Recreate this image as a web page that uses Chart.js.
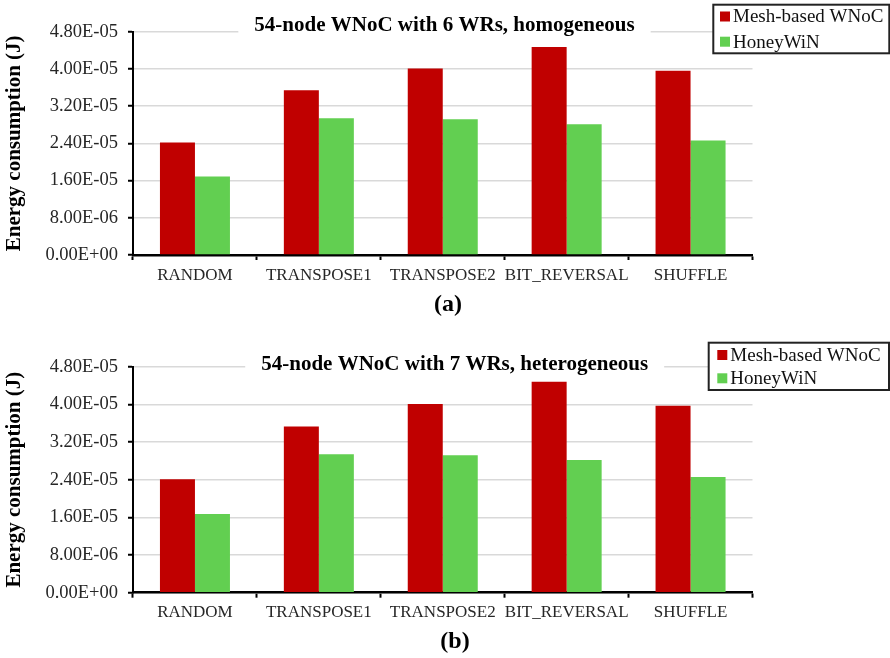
<!DOCTYPE html>
<html>
<head>
<meta charset="utf-8">
<script src="https://cdn.jsdelivr.net/npm/chart.js@4.4.0/dist/chart.umd.min.js"></script>
<style>
  body { margin: 0; background: #fff; }
  canvas { display: block; }
</style>
</head>
<body>
<canvas id="chart-a" width="890" height="329"></canvas>
<canvas id="chart-b" width="890" height="329"></canvas>
<script>
const patterns = ["RANDOM", "TRANSPOSE1", "TRANSPOSE2", "BIT_REVERSAL", "SHUFFLE"];
const seriesNames = ["Mesh-based WNoC", "HoneyWiN"];

// (a) 54-node WNoC with 6 WRs, homogeneous
const meshHomogeneous = [2.42e-5, 3.54e-5, 4.01e-5, 4.47e-5, 3.96e-5];
const honeyHomogeneous = [1.69e-5, 2.94e-5, 2.92e-5, 2.81e-5, 2.46e-5];

// (b) 54-node WNoC with 7 WRs, heterogeneous
const meshHeterogeneous = [2.41e-5, 3.53e-5, 4.01e-5, 4.48e-5, 3.97e-5];
const honeyHeterogeneous = [1.67e-5, 2.94e-5, 2.92e-5, 2.82e-5, 2.46e-5];

const yTicks = [0, 8e-6, 1.6e-5, 2.4e-5, 3.2e-5, 4e-5, 4.8e-5];

const SERIF = "'Liberation Serif', 'Times New Roman', serif";
const RED = "#c00000";
const GREEN = "#62cf51";

// 4e-5 -> "4.00E-05"
const sci = (v) => {
  const [mant, exp] = Number(v).toExponential(2).split("e");
  const e = Number(exp);
  return mant + "E" + (e < 0 ? "-" : "+") + String(Math.abs(e)).padStart(2, "0");
};

const overlay = {
  id: "overlay",
  afterDraw(chart, args, opts) {
    const { ctx } = chart;
    ctx.save();

    // title sits on top of the 4.80E-05 gridline with a white backing
    ctx.font = `bold 21px ${SERIF}`;
    const tw = ctx.measureText(opts.title).width;
    ctx.fillStyle = "#fff";
    ctx.fillRect(opts.titleX - tw / 2 - 16, opts.titleY - 20, tw + 32, 28);
    ctx.fillStyle = "#000";
    ctx.textAlign = "center";
    ctx.textBaseline = "alphabetic";
    ctx.fillText(opts.title, opts.titleX, opts.titleY);

    // boxed legend, top right
    const L = opts.legend;
    ctx.fillStyle = "#fff";
    ctx.fillRect(L.x, L.y, L.w, L.h);
    ctx.lineWidth = 2;
    ctx.strokeStyle = "#222";
    ctx.strokeRect(L.x, L.y, L.w, L.h);
    ctx.font = `19px ${SERIF}`;
    ctx.textAlign = "left";
    ctx.textBaseline = "middle";
    chart.data.datasets.forEach((ds, i) => {
      const cy = L.y + L.first + i * L.step;
      ctx.fillStyle = ds.backgroundColor;
      ctx.fillRect(L.x + L.pad, cy - 5, 10, 10);
      ctx.fillStyle = "#111";
      ctx.fillText(ds.label, L.x + L.pad + 13, cy + 1);
    });

    // (a) / (b) caption
    ctx.font = `bold 24px ${SERIF}`;
    ctx.textAlign = "center";
    ctx.textBaseline = "alphabetic";
    ctx.fillStyle = "#000";
    ctx.fillText(opts.caption, opts.captionX, opts.captionY);

    ctx.restore();
  },
};

const renderChart = ({ canvasId, mesh, honey, padding, overlayOpts }) =>
  new Chart(document.getElementById(canvasId).getContext("2d"), {
    type: "bar",
    data: {
      labels: patterns,
      datasets: [
        { label: seriesNames[0], data: mesh, backgroundColor: RED, borderWidth: 0 },
        { label: seriesNames[1], data: honey, backgroundColor: GREEN, borderWidth: 0 },
      ],
    },
    options: {
      responsive: false,
      animation: false,
      layout: { padding },
      datasets: {
        bar: { categoryPercentage: 0.565, barPercentage: 1 },
      },
      scales: {
        x: {
          afterFit: (s) => { s.height = 40; },
          grid: {
            offset: true,
            drawOnChartArea: false,
            drawTicks: true,
            tickLength: 5,
            tickColor: "#000",
            tickWidth: 2,
          },
          border: { color: "#000", width: 2.5 },
          ticks: {
            padding: 5,
            color: "#262626",
            font: { family: SERIF, size: 17 },
            maxRotation: 0,
            autoSkip: false,
          },
        },
        y: {
          min: 0,
          max: 4.8e-5,
          afterFit: (s) => { s.width = 133; },
          afterBuildTicks: (s) => { s.ticks = yTicks.map((value) => ({ value })); },
          grid: {
            color: "#d9d9d9",
            lineWidth: 1.5,
            tickLength: 5,
            tickColor: "#000",
            tickWidth: 2,
          },
          border: { color: "#000", width: 2 },
          ticks: {
            padding: 10,
            color: "#262626",
            font: { family: SERIF, size: 18.5 },
            callback: (v) => sci(v),
          },
          title: {
            display: true,
            text: "Energy consumption (J)",
            color: "#000",
            font: { family: SERIF, size: 21, weight: "bold" },
            padding: { top: 2, bottom: 2 },
          },
        },
      },
      plugins: {
        legend: { display: false },
        tooltip: { enabled: false },
        overlay: overlayOpts,
      },
    },
    plugins: [overlay],
  });

renderChart({
  canvasId: "chart-a",
  mesh: meshHomogeneous,
  honey: honeyHomogeneous,
  padding: { top: 31.7, right: 137.5, bottom: 34, left: 0 },
  overlayOpts: {
    title: "54-node WNoC with 6 WRs, homogeneous",
    titleX: 444.5,
    titleY: 31,
    legend: { x: 713.3, y: 4.7, w: 176, h: 48.6, pad: 6.7, first: 11.8, step: 25.2 },
    caption: "(a)",
    captionX: 448,
    captionY: 311,
  },
});

renderChart({
  canvasId: "chart-b",
  mesh: meshHeterogeneous,
  honey: honeyHeterogeneous,
  padding: { top: 37.7, right: 137.5, bottom: 25.3, left: 0 },
  overlayOpts: {
    title: "54-node WNoC with 7 WRs, heterogeneous",
    titleX: 454.7,
    titleY: 41,
    legend: { x: 708.7, y: 13.7, w: 180.3, h: 47.3, pad: 8.6, first: 12.3, step: 23.3 },
    caption: "(b)",
    captionX: 455,
    captionY: 319,
  },
});
</script>
</body>
</html>
